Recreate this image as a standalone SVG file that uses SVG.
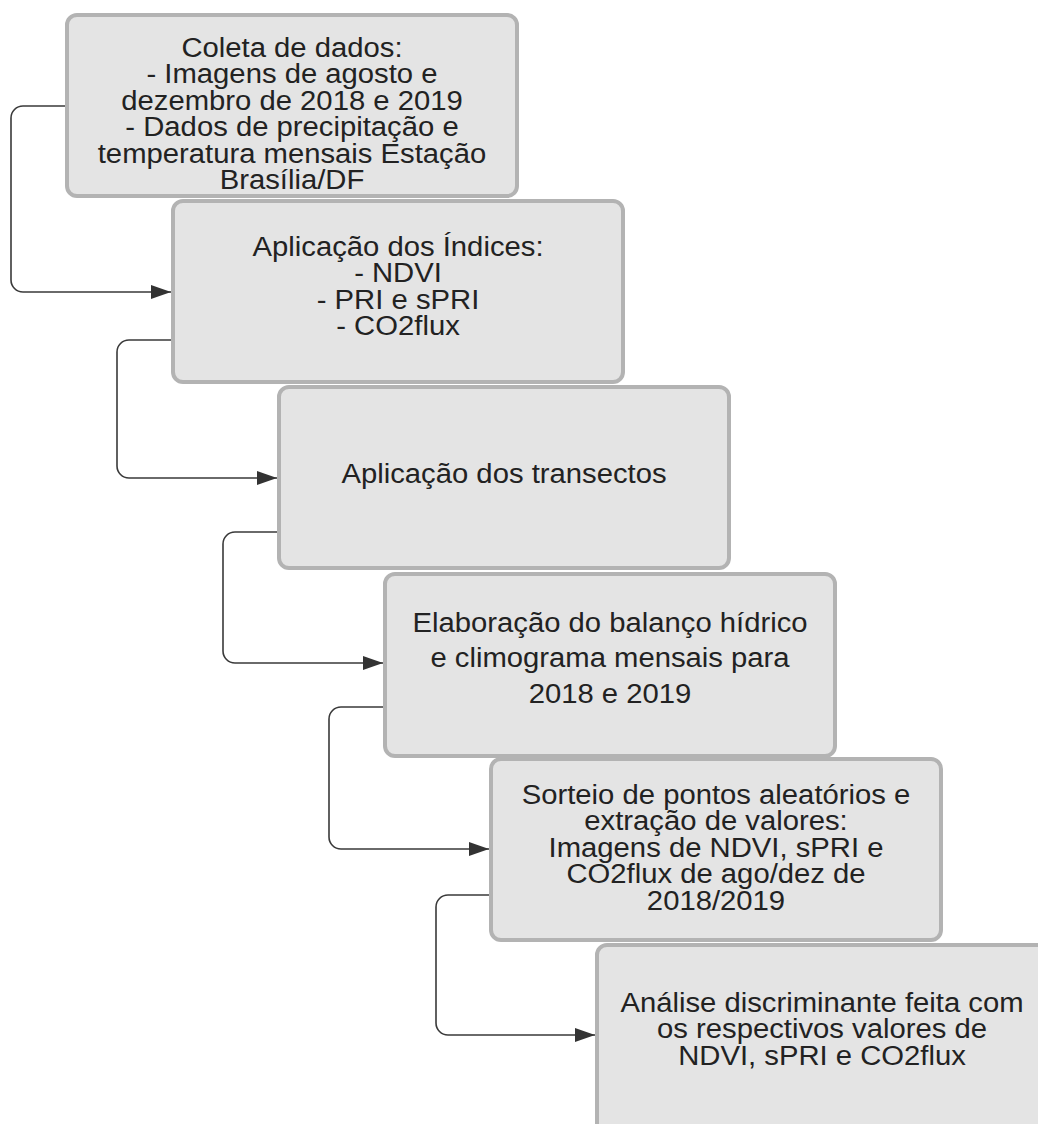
<svg xmlns="http://www.w3.org/2000/svg" width="1038" height="1124" viewBox="0 0 1038 1124">
<defs>
<style>
.box{fill:#e4e4e4;stroke:#b3b3b3;stroke-width:4}
.t{font-family:"Liberation Sans",Arial,sans-serif;font-size:28px;fill:#222;text-anchor:middle}
.c{fill:none;stroke:#3a3a3a;stroke-width:1.6}
</style>
<marker id="ah" markerUnits="userSpaceOnUse" markerWidth="22" markerHeight="16" refX="20" refY="7" orient="auto">
<path d="M0,0 L20,7 L0,14 z" fill="#333"/>
</marker>
</defs>
<rect width="1038" height="1124" fill="#fff"/>
<g id="connectors">
<path class="c" marker-end="url(#ah)" d="M66,106 H23 A12,12 0 0 0 11,118 V280 A12,12 0 0 0 23,292 H171"/>
<path class="c" marker-end="url(#ah)" d="M172,340 H129 A12,12 0 0 0 117,352 V466 A12,12 0 0 0 129,478 H277"/>
<path class="c" marker-end="url(#ah)" d="M278,532 H235 A12,12 0 0 0 223,544 V651 A12,12 0 0 0 235,663 H383"/>
<path class="c" marker-end="url(#ah)" d="M384,707 H341 A12,12 0 0 0 329,719 V837 A12,12 0 0 0 341,849 H489"/>
<path class="c" marker-end="url(#ah)" d="M490,895 H448 A12,12 0 0 0 436,907 V1023 A12,12 0 0 0 448,1035 H595"/>
</g>
<g id="n1">
<rect class="box" x="67" y="15" width="450" height="181" rx="10"/>
<text class="t" transform="translate(292,0) scale(1.045,1)"><tspan x="0" y="57">Coleta de dados:</tspan><tspan x="0" y="83.5">- Imagens de agosto e</tspan><tspan x="0" y="110">dezembro de 2018 e 2019</tspan><tspan x="0" y="136.5">- Dados de precipitação e</tspan><tspan x="0" y="163">temperatura mensais Estação</tspan><tspan x="0" y="189.5">Brasília/DF</tspan></text>
</g>
<g id="n2">
<rect class="box" x="173" y="201" width="450" height="181" rx="10"/>
<text class="t" transform="translate(398,0) scale(1.045,1)"><tspan x="0" y="256">Aplicação dos Índices:</tspan><tspan x="0" y="282.5">- NDVI</tspan><tspan x="0" y="309">- PRI e sPRI</tspan><tspan x="0" y="335.5">- CO2flux</tspan></text>
</g>
<g id="n3">
<rect class="box" x="279" y="387" width="450" height="181" rx="10"/>
<text class="t" transform="translate(504,0) scale(1.045,1)" x="0" y="483">Aplicação dos transectos</text>
</g>
<g id="n4">
<rect class="box" x="385" y="574" width="450" height="182" rx="10"/>
<text class="t" transform="translate(610,0) scale(1.045,1)"><tspan x="0" y="632">Elaboração do balanço hídrico</tspan><tspan x="0" y="667.5">e climograma mensais para</tspan><tspan x="0" y="703">2018 e 2019</tspan></text>
</g>
<g id="n5">
<rect class="box" x="491" y="759" width="450" height="181" rx="10"/>
<text class="t" transform="translate(716,0) scale(1.045,1)"><tspan x="0" y="804">Sorteio de pontos aleatórios e</tspan><tspan x="0" y="830.5">extração de valores:</tspan><tspan x="0" y="857">Imagens de NDVI, sPRI e</tspan><tspan x="0" y="883.5">CO2flux de ago/dez de</tspan><tspan x="0" y="910">2018/2019</tspan></text>
</g>
<g id="n6">
<rect class="box" x="597" y="945" width="450" height="190" rx="10"/>
<text class="t" transform="translate(822,0) scale(1.045,1)"><tspan x="0" y="1012">Análise discriminante feita com</tspan><tspan x="0" y="1038.5">os respectivos valores de</tspan><tspan x="0" y="1065">NDVI, sPRI e CO2flux</tspan></text>
</g>
</svg>
